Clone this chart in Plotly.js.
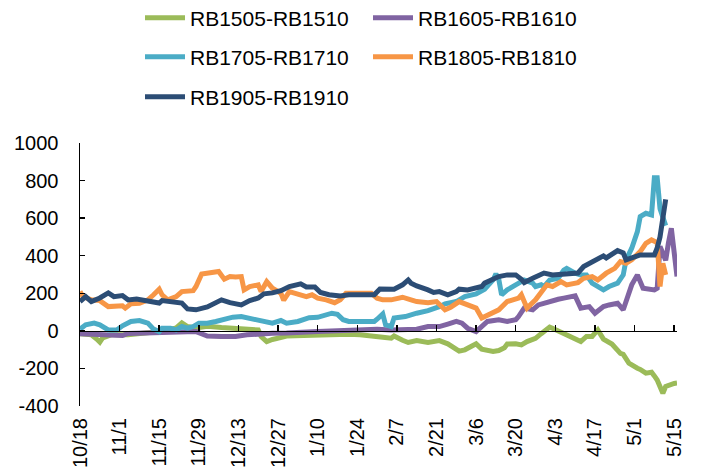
<!DOCTYPE html>
<html>
<head>
<meta charset="utf-8">
<script src="https://cdn.plot.ly/plotly-3.0.1.min.js"></script>
<style>html,body{margin:0;padding:0;background:#fff;}#chart{width:703px;height:468px;}</style>
</head>
<body>
<div id="chart"></div>
<script>
// Series names
const names = ['RB1505-RB1510', 'RB1605-RB1610', 'RB1705-RB1710', 'RB1805-RB1810', 'RB1905-RB1910'];

// x values: days since 10/18 (axis runs 10/18 .. 5/15, leap-year February)
const days1505 = [0,4,6,7,8,11,17,21,26,28,31,34,36,38,41,45,50,55,60,63,64,66,68,71,73,79,84,89,95,99,105,107,110,111,114,116,119,123,127,130,134,136,140,142,146,148,150,151,154,156,158,161,163,166,167,170,173,177,179,181,183,185,188,191,192,194,197,198,200,202,203,204,206,207,210,211];
const val1505  = [-16,-21,-45,-60,-37,-21,-21,-16,-12,-4,5,16,42,23,16,25,18,12,9,5,-30,-57,-46,-39,-28,-25,-22,-18,-18,-21,-26,-34,-39,-27,-50,-62,-52,-62,-52,-69,-108,-101,-69,-97,-110,-105,-90,-70,-69,-75,-57,-40,-15,20,14,-8,-25,-57,-30,-30,5,-44,-70,-120,-125,-172,-199,-205,-225,-220,-240,-262,-332,-296,-280,-278];

const days1605 = [0,7,13,15,17,21,24,26,31,34,41,42,45,50,55,59,64,68,73,78,84,91,98,105,110,115,119,123,127,130,133,135,137,140,142,144,148,151,154,155,157,160,162,164,165,169,171,175,177,180,182,185,187,190,192,194,195,197,199,203,204,205,207,208,209,211];
const val1605  = [-16,-18,-20,-25,-14,-12,-15,-12,-6,-4,-4,-10,-28,-30,-30,-21,-14,-13,-12,-6,-4,0,5,8,5,5,9,23,23,36,50,41,14,-4,23,50,59,50,59,76,121,112,138,147,156,168,174,186,121,129,94,129,138,147,112,209,245,298,227,218,227,450,375,470,546,289];

const days1705 = [0,2,5,7,10,13,15,18,21,24,26,28,29,32,34,36,38,40,42,45,48,51,54,57,60,64,66,68,71,73,77,79,81,84,86,89,91,93,95,100,104,105,107,108,110,111,115,119,123,127,129,133,136,140,143,146,147,148,149,151,154,157,160,161,163,164,166,169,171,172,175,177,179,181,185,187,190,192,193,195,197,198,200,202,203,204,205,207];
const val1705  = [9,32,41,32,5,5,27,50,55,41,9,-4,14,14,5,23,14,23,41,41,50,62,73,76,66,59,48,41,55,41,50,62,70,72,82,94,88,59,50,50,50,62,90,32,23,68,76,94,108,129,144,156,182,197,222,271,303,275,192,218,245,271,254,236,245,236,271,280,324,333,307,298,298,254,218,236,254,298,378,440,528,608,626,617,815,815,650,560];

const days1805 = [0,1,4,7,10,12,15,16,18,21,24,26,28,29,31,34,36,40,41,43,46,49,51,53,55,57,58,60,63,64,66,68,71,72,74,77,80,82,84,87,90,92,94,98,103,105,107,110,114,117,119,123,126,129,131,134,137,140,142,144,148,151,155,156,158,161,163,165,167,170,172,176,178,181,183,186,189,191,193,195,198,200,202,204,205,206,207];
const val1805  = [209,183,165,161,129,129,133,121,144,147,165,192,222,192,165,182,209,214,236,303,310,316,275,289,287,289,218,236,245,209,262,227,200,163,209,198,182,192,174,165,150,165,200,200,200,174,165,165,179,165,156,150,156,112,126,156,138,121,68,85,112,156,174,192,121,165,205,245,236,262,245,257,280,289,271,307,333,369,360,378,422,466,484,470,236,360,298];

const days1905 = [0,2,4,7,10,12,15,17,20,24,28,29,34,36,38,41,45,48,50,53,57,60,63,65,68,71,74,78,80,83,85,88,92,95,100,104,106,110,111,114,116,117,119,123,125,127,130,133,134,137,140,142,143,146,148,151,154,156,157,160,162,164,167,171,176,178,180,183,185,186,188,190,192,193,195,198,203,204,205,206,207];
const val1905  = [156,182,156,175,202,182,188,165,170,156,148,161,156,148,117,112,127,149,165,150,138,161,175,197,202,214,236,250,234,234,204,192,186,192,192,192,223,218,222,245,271,254,239,218,204,209,192,209,222,218,227,236,254,271,289,298,298,275,257,280,293,308,298,303,308,342,360,388,399,388,404,427,415,378,388,404,404,441,500,627,700];

const colors = ['#9BBB59', '#8064A2', '#4BACC6', '#F79646', '#2C4D75'];

// Axis ticks
const yTickVals = [-400, -200, 0, 200, 400, 600, 800, 1000];
const yTickText = ['-400', '-200', '0', '200', '400', '600', '800', '1000'];

const START = Date.UTC(2015, 9, 18);
function toDates(ds) {
  return ds.map(d => new Date(START + d * 86400000).toISOString().slice(0, 10));
}

const allDays = [days1505, days1605, days1705, days1805, days1905];
const allVals = [val1505, val1605, val1705, val1805, val1905];
const legendOf = ['legend', 'legend', 'legend2', 'legend2', 'legend3'];

const traces = names.map((n, i) => ({
  type: 'scatter',
  mode: 'lines',
  name: n,
  x: toDates(allDays[i]),
  y: allVals[i],
  line: {color: colors[i], width: 5},
  legend: legendOf[i],
  xaxis: i === 4 ? 'x2' : 'x',
  yaxis: 'y',
  hoverinfo: 'x+y+name'
}));

const range = ['2015-10-18', '2016-05-16'];
const DAY14 = 14 * 86400000;
const legendBase = {
  orientation: 'h', xref: 'container', yref: 'container',
  xanchor: 'left', yanchor: 'middle',
  font: {family: 'Arial, "Liberation Sans", sans-serif', size: 21, color: '#000'},
  bgcolor: 'rgba(0,0,0,0)', itemwidth: 40,
  entrywidth: 173, entrywidthmode: 'pixels',
  traceorder: 'normal', itemclick: false, itemdoubleclick: false
};

const layout = {
  width: 703, height: 468,
  margin: {l: 80, r: 26, t: 143, b: 62, pad: 0},
  paper_bgcolor: '#fff', plot_bgcolor: '#fff',
  font: {family: 'Arial, "Liberation Sans", sans-serif', size: 20, color: '#000'},
  showlegend: true,
  legend: Object.assign({}, legendBase, {x: 140 / 703, y: 1 - 18 / 468}),
  legend2: Object.assign({}, legendBase, {x: 140 / 703, y: 1 - 57 / 468}),
  legend3: Object.assign({}, legendBase, {x: 140 / 703, y: 1 - 97 / 468}),
  xaxis: {
    type: 'date', range: range, tick0: '2015-10-18', dtick: DAY14,
    tickformat: '%-m/%-d', tickangle: -90,
    showline: false, ticks: '', showgrid: false, zeroline: false,
    tickfont: {size: 20, color: '#000'}, ticklabelstandoff: 7
  },
  xaxis2: {
    type: 'date', range: range, tick0: '2015-10-18', dtick: DAY14,
    overlaying: 'x', anchor: 'free', position: 400 / 1400,
    showline: true, linecolor: '#000', linewidth: 1.5,
    ticks: 'inside', ticklen: 6, tickwidth: 1.5, tickcolor: '#000',
    showticklabels: false, showgrid: false, zeroline: false
  },
  yaxis: {
    range: [-400, 1000], tickvals: yTickVals, ticktext: yTickText,
    showline: true, linecolor: '#000', linewidth: 1.5,
    ticks: 'inside', ticklen: 5, tickwidth: 1.5, tickcolor: '#000',
    showgrid: false, zeroline: false,
    tickfont: {size: 20, color: '#000'}, ticklabelstandoff: 16
  }
};

Plotly.newPlot('chart', traces, layout, {displayModeBar: false, staticPlot: true});
</script>
</body>
</html>
